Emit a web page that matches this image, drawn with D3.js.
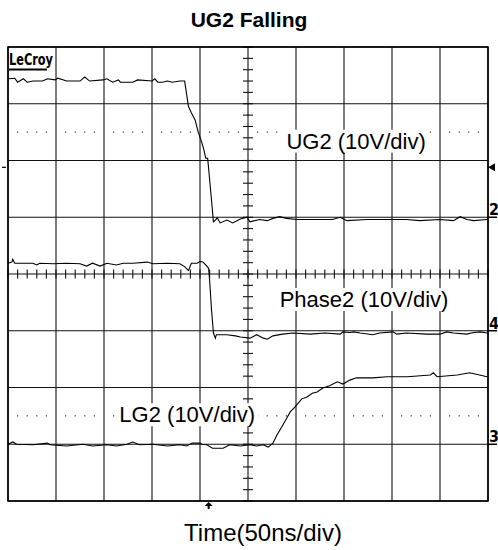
<!DOCTYPE html>
<html lang="en">
<head>
<meta charset="UTF-8">
<title>UG2 Falling</title>
<script src="https://d3js.org/d3.v7.min.js"></script>
<style>
    html, body {
        margin:0;
        padding:0;
        background:#fff;
    }
    svg { display:block; }
    text { font-family: "Liberation Sans", Arial, sans-serif; fill:#000; }
</style>
</head>
<body>
<div id="chart"></div>
<script>
    // scope settings
    const title = "UG2 Falling";
    const xLabel = "Time(50ns/div)";
    const channelLabels = ["UG2 (10V/div)", "Phase2 (10V/div)", "LG2 (10V/div)"];
    const channelMarks = ["2", "4", "3"];
    const voltsPerDiv = 10;
    const groundDiv = [1, -1, -3];     // ground reference of each channel, in divisions
    const timeTicks = d3.range(0, 501, 50);   // ns, 50ns/div
    const divTicks = d3.range(-4, 5, 1);
    const triggerTime = 209;   // ns
    const triggerLevel = 8.8;  // V on UG2

    // traces: [time ns, volts]
    const ug2 = [
        [1,24.4],[7,24.5],[10,23.8],[16,24.4],[20,23.8],[26,24.0],[36,24.0],[41,24.4],[49,24.2],[52,24.5],
        [61,24.0],[75,24.0],[80,24.7],[85,24.0],[99,24.2],[103,24.4],[109,23.8],[115,24.2],[117,23.8],
        [130,23.8],[135,24.2],[150,24.0],[153,24.4],[156,23.8],[161,23.8],[166,24.0],[171,23.8],[179,24.0],
        [184,24.0],[188,19.5],[191,18.4],[195,17.1],[198,15.1],[202,13.1],[204,11.9],[206,10.4],[208,10.4],
        [212,3.0],[214,-0.8],[216,-0.5],[218,-0.1],[221,-1.0],[228,-0.5],[234,-1.0],[242,-0.3],[249,0.0],
        [252,-0.8],[262,-0.4],[270,-0.6],[276,-0.2],[283,0.1],[290,-0.2],[301,-0.4],[338,-0.4],[346,0.0],
        [353,-0.6],[374,-0.4],[415,-0.4],[429,-0.6],[450,-0.4],[464,-0.6],[471,0.1],[478,-0.4],[485,-0.6],[499,-0.4]
    ];
    const phase2 = [
        [0,11.9],[4,12.1],[5,12.6],[7,11.9],[26,11.9],[30,11.6],[33,11.9],[47,11.8],[61,11.9],[75,11.8],
        [82,11.4],[88,11.9],[96,11.4],[103,11.9],[113,11.6],[120,11.9],[130,11.9],[145,12.1],[151,11.8],
        [166,11.9],[179,11.8],[184,11.3],[188,10.6],[191,11.9],[197,11.9],[200,12.2],[203,12.1],[206,11.6],
        [209,11.0],[210,8.9],[212,3.7],[214,-0.4],[216,-1.3],[217,-0.7],[228,-0.7],[237,-0.9],[242,-1.1],
        [252,-1.3],[259,-0.7],[266,-1.3],[270,-1.5],[276,-0.9],[286,-0.6],[297,-0.4],[315,-0.6],[330,-0.4],
        [346,-0.6],[349,-0.2],[356,-0.3],[360,-0.2],[367,-0.4],[380,-0.7],[387,-0.4],[401,-0.2],[405,-0.6],
        [415,-0.4],[436,-0.6],[450,-0.6],[457,-0.2],[464,-0.4],[478,-0.6],[485,-0.3],[492,-0.2],[499,-0.4]
    ];
    const lg2 = [
        [0,0.0],[5,0.4],[9,0.0],[26,-0.1],[41,0.2],[44,-0.1],[61,-0.3],[78,0.0],[88,-0.3],[103,-0.1],
        [113,-0.3],[124,0.0],[130,0.4],[137,-0.1],[151,0.0],[166,-0.3],[179,-0.1],[186,-0.3],[192,0.2],
        [200,0.2],[202,0.0],[207,-0.1],[213,-0.7],[224,-0.7],[231,-0.1],[242,-0.3],[252,-0.1],[259,-0.3],
        [266,-0.1],[271,-0.5],[276,0.2],[280,1.6],[285,3.0],[291,4.8],[294,5.7],[299,6.6],[306,8.0],
        [311,8.3],[317,9.0],[322,9.2],[328,9.9],[335,10.3],[343,11.0],[349,10.6],[356,11.3],[363,11.7],
        [380,11.7],[395,11.9],[416,11.9],[440,12.2],[443,12.6],[447,11.9],[468,12.2],[481,12.6],[499,11.9]
    ];
    const traces = [ug2, phase2, lg2];

    const width = 498, height = 550;
    const svg = d3.select("#chart").append("svg")
        .attr("width", width)
        .attr("height", height);

    const x = d3.scaleLinear().domain([0, 500]).range([8, 488]);
    const y = d3.scaleLinear().domain([-4, 4]).range([501, 47]);
    const toDiv = (v, ch) => v / voltsPerDiv + groundDiv[ch];

    // title + time label
    svg.append("text")
        .attr("x", 249).attr("y", 27)
        .attr("text-anchor", "middle")
        .style("font-size", "21px").style("font-weight", "bold")
        .text(title);
    svg.append("text")
        .attr("x", 263).attr("y", 541)
        .attr("text-anchor", "middle")
        .style("font-size", "24px")
        .text(xLabel);

    // graticule
    const grid = svg.append("g").attr("stroke", "#111").attr("stroke-width", 1.1);
    grid.selectAll(".vl").data(timeTicks).join("line")
        .attr("x1", d => x(d)).attr("x2", d => x(d))
        .attr("y1", y(4)).attr("y2", y(-4));
    grid.selectAll(".hl").data(divTicks).join("line")
        .attr("x1", x(0)).attr("x2", x(500))
        .attr("y1", d => y(d)).attr("y2", d => y(d));

    // minor ticks on the centre axes
    const minorT = d3.range(0, 500.1, 10);
    const minorD = d3.range(-4, 4.01, 0.2);
    grid.selectAll(".tx").data(minorT).join("line")
        .attr("x1", d => x(d)).attr("x2", d => x(d))
        .attr("y1", y(0) - 4.5).attr("y2", y(0) + 4.5);
    grid.selectAll(".ty").data(minorD).join("line")
        .attr("x1", x(250) - 5).attr("x2", x(250) + 5)
        .attr("y1", d => y(d)).attr("y2", d => y(d));

    // dotted rows
    const dotT = minorT.filter(d => d % 50 !== 0);
    [2.5, -2.5].forEach(row => {
        svg.append("g").selectAll("rect").data(dotT).join("rect")
            .attr("x", d => x(d) - 0.6).attr("y", y(row) - 0.6)
            .attr("width", 1.2).attr("height", 1.2)
            .attr("fill", "#333");
    });

    svg.append("rect")
        .attr("x", x(0)).attr("y", y(4))
        .attr("width", x(500) - x(0)).attr("height", y(-4) - y(4))
        .attr("fill", "none").attr("stroke", "#000").attr("stroke-width", 1.6);

    // traces
    traces.forEach((data, ch) => {
        const line = d3.line()
            .x(d => x(d[0]))
            .y(d => y(toDiv(d[1], ch)));
        svg.append("path")
            .datum(data)
            .attr("d", line)
            .attr("fill", "none")
            .attr("stroke", "#000")
            .attr("stroke-width", 1.1);
    });

    // channel labels with white box
    const labelPos = [[290, 2.34], [283, -0.45], [116, -2.48]];
    channelLabels.forEach((lab, i) => {
        const g = svg.append("g");
        const t = g.append("text")
            .attr("x", x(labelPos[i][0]))
            .attr("y", y(labelPos[i][1]))
            .attr("dominant-baseline", "central")
            .style("font-size", "22px")
            .text(lab);
        const bb = t.node().getBBox();
        g.insert("rect", "text")
            .attr("x", bb.x - 3).attr("y", bb.y + 1)
            .attr("width", bb.width + 6).attr("height", bb.height - 2)
            .attr("fill", "#fff");
    });

    // ground markers on the right
    channelMarks.forEach((m, i) => {
        const gy = y(groundDiv[i]);
        svg.append("text")
            .attr("x", 489).attr("y", gy - 2)
            .style("font-family", "'Liberation Sans Narrow', 'DejaVu Sans Condensed', sans-serif")
            .style("font-size", "16px").style("font-weight", "bold")
            .text(m);
        svg.append("line")
            .attr("x1", 488).attr("x2", 497)
            .attr("y1", gy).attr("y2", gy)
            .attr("stroke", "#000").attr("stroke-width", 1.5);
    });

    // trigger level + position markers
    const ty = y(toDiv(triggerLevel, 0));
    svg.append("path")
        .attr("d", `M488,${ty} L495,${ty - 4} L495,${ty + 4} Z`)
        .attr("fill", "#000");
    svg.append("line")
        .attr("x1", 2).attr("x2", 6).attr("y1", ty).attr("y2", ty)
        .attr("stroke", "#000").attr("stroke-width", 1.2);
    const tx = x(triggerTime);
    svg.append("path")
        .attr("d", `M${tx},${502} L${tx + 4},${506} L${tx + 1},${506} L${tx + 1},${509} L${tx - 1},${509} L${tx - 1},${506} L${tx - 4},${506} Z`)
        .attr("fill", "#000");

    // LeCroy logo
    svg.append("text")
        .attr("x", 9).attr("y", 65)
        .attr("textLength", 44).attr("lengthAdjust", "spacingAndGlyphs")
        .style("font-family", "'Liberation Sans Narrow', 'DejaVu Sans Condensed', sans-serif")
        .style("font-size", "16px").style("font-weight", "bold")
        .text("LeCroy");
    svg.append("line")
        .attr("x1", 9).attr("x2", 47).attr("y1", 69.5).attr("y2", 69.5)
        .attr("stroke", "#000").attr("stroke-width", 2);
</script>
</body>
</html>
